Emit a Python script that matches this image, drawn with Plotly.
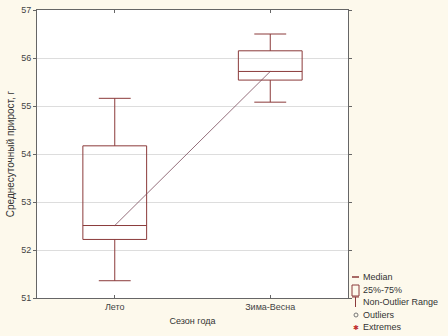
import plotly.graph_objects as go

categories = ["Лето", "Зима-Весна"]
q1 = [52.22, 55.54]
median = [52.51, 55.72]
q3 = [54.17, 56.15]
lower = [51.36, 55.08]
upper = [55.16, 56.50]
yticks = [51, 52, 53, 54, 55, 56, 57]
legend_labels = ["Median", "25%-75%", "Non-Outlier Range", "Outliers", "Extremes"]

BOX = "#8B3A3A"
W, H = 448, 336
L, R, T, B = 37, 100, 10, 38
pw, ph = W - L - R, H - T - B

def px(x):
    return (x - L) / pw

def py(y):
    return (H - B - y) / ph

fig = go.Figure()
fig.add_trace(go.Box(
    x=categories, q1=q1, median=median, q3=q3,
    lowerfence=lower, upperfence=upper,
    line=dict(color=BOX, width=1), fillcolor="rgba(255,255,255,0)",
    whiskerwidth=0.5, width=0.41, boxpoints=False, showlegend=False,
    hoverinfo="skip"))
fig.add_trace(go.Scatter(
    x=categories, y=median, mode="lines",
    line=dict(color="#7a4a5a", width=0.8), showlegend=False, hoverinfo="skip"))

shapes = []
annotations = []
ys = [277, 290, 302, 315, 327]
for lab, y in zip(legend_labels, ys):
    annotations.append(dict(x=px(361), y=py(y), xref="paper", yref="paper",
                            text=lab, showarrow=False, xanchor="left", yanchor="middle",
                            font=dict(size=9, color="#333333", family="Liberation Sans, Arial")))
# Median symbol
shapes.append(dict(type="line", xref="paper", yref="paper", x0=px(352), x1=px(359),
                   y0=py(ys[0]), y1=py(ys[0]), line=dict(color=BOX, width=1.5)))
# Box symbol
shapes.append(dict(type="rect", xref="paper", yref="paper", x0=px(352), x1=px(359),
                   y0=py(ys[1] - 5), y1=py(ys[1] + 6), line=dict(color=BOX, width=1)))
# Whisker symbol
shapes.append(dict(type="line", xref="paper", yref="paper", x0=px(352), x1=px(359),
                   y0=py(ys[2] - 5), y1=py(ys[2] - 5), line=dict(color=BOX, width=1)))
shapes.append(dict(type="line", xref="paper", yref="paper", x0=px(355.5), x1=px(355.5),
                   y0=py(ys[2] - 5), y1=py(ys[2] + 5), line=dict(color=BOX, width=1)))
# Outliers symbol
shapes.append(dict(type="circle", xref="paper", yref="paper", x0=px(354), x1=px(358),
                   y0=py(ys[3] - 2), y1=py(ys[3] + 2), line=dict(color="#777777", width=1)))
# Extremes symbol
annotations.append(dict(x=px(356), y=py(ys[4]), xref="paper", yref="paper", text="✱",
                        showarrow=False, xanchor="center", yanchor="middle",
                        font=dict(size=7, color="#C03030")))

fig.update_layout(
    width=W, height=H,
    margin=dict(l=L, r=R, t=T, b=B, autoexpand=False),
    paper_bgcolor="#FDF9EC", plot_bgcolor="#FFFFFF",
    font=dict(family="Liberation Sans, Arial", size=9, color="#444444"),
    showlegend=False, shapes=shapes, annotations=annotations,
    xaxis=dict(title=dict(text="Сезон года", font=dict(size=9, color="#333333"), standoff=6),
               automargin=False,
               range=[-0.5, 1.5], showgrid=False, showline=True, linecolor="#666666",
               linewidth=1, mirror="ticks", ticks="inside", ticklen=3, tickcolor="#666666",
               zeroline=False),
    yaxis=dict(title=dict(text="Среднесуточный прирост, г", font=dict(size=10, color="#333333"),
                          standoff=4),
               automargin=False,
               range=[51, 57], tickvals=yticks, showgrid=True, gridcolor="#DDDDDD",
               gridwidth=1, showline=True, linecolor="#666666", linewidth=1,
               mirror="ticks", ticks="outside", ticklen=3, tickcolor="#666666",
               zeroline=False),
)
fig.write_html("out.html", config={"displayModeBar": False},
               post_script="document.body.style.margin='0';document.body.style.background='#FDF9EC';")
